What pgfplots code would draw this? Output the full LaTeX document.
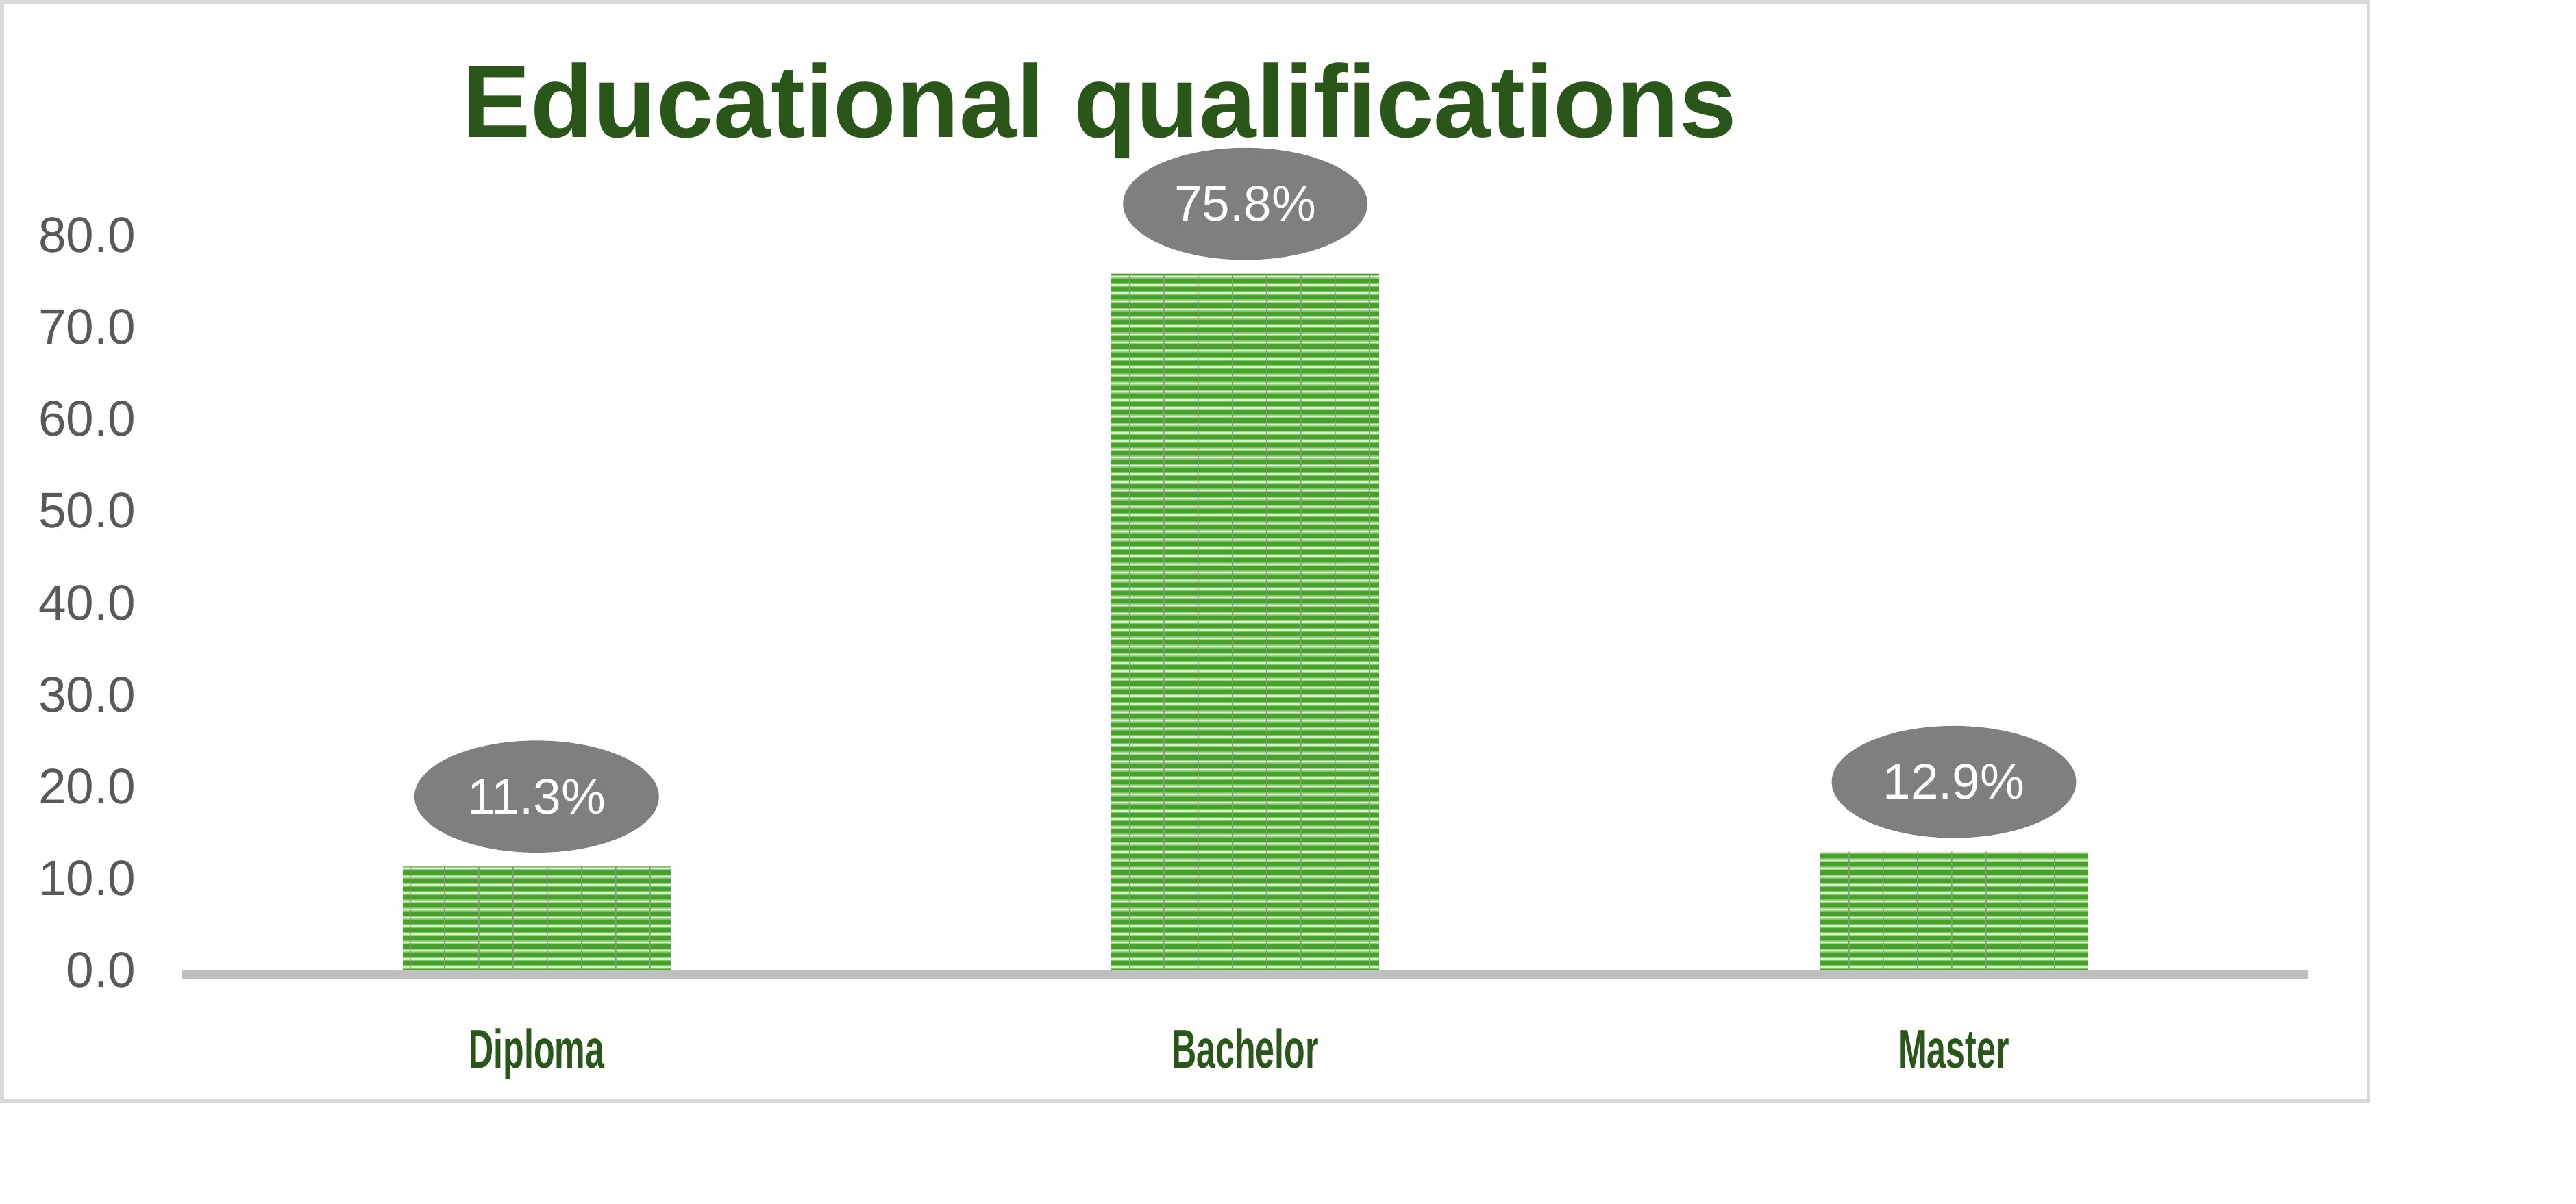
\documentclass[border=0pt]{standalone}
\usepackage{pgfplots}
\pgfplotsset{compat=1.18}
\usepackage{fontspec}
\setmainfont{Liberation Sans}
\newfontfamily\catfont[FakeStretch=0.63]{Liberation Sans}
\usetikzlibrary{shapes.geometric,patterns.meta}
\definecolor{titlegreen}{HTML}{2A561A}
\definecolor{darkbar}{HTML}{47A02B}
\definecolor{midbar}{HTML}{7EC463}
\definecolor{lightbar}{HTML}{D6EFCC}
\definecolor{vline}{HTML}{7F9F73}
\definecolor{ticktext}{HTML}{595959}
\definecolor{basegrey}{HTML}{BFBFBF}
\definecolor{framegrey}{HTML}{D9D9D9}
\definecolor{bubble}{HTML}{7F7F7F}
\tikzdeclarepattern{
  name=blinds,
  type=colored,
  bottom left={(0pt,0pt)},
  top right={(10.4pt,2.6pt)},
  tile size={(10.4pt,2.6pt)},
  code={
    \fill[lightbar] (0pt,0pt) rectangle (10.4pt,2.6pt);
    \fill[darkbar] (0pt,0pt) rectangle (10.4pt,1.3pt);
    \fill[midbar] (0pt,1.3pt) rectangle (10.4pt,1.65pt);
    \fill[midbar] (0pt,2.25pt) rectangle (10.4pt,2.6pt);
    \fill[vline] (0pt,0pt) rectangle (0.35pt,2.6pt);
  }
}
\begin{document}
\begin{tikzpicture}
\path[use as bounding box] (0pt,0pt) rectangle (784pt,366.4pt);
\draw[framegrey, line width=1.2pt] (0.6pt,31.1pt) rectangle (720.9pt,365.8pt);
\node[anchor=base, text=titlegreen, font=\fontsize{31.3pt}{36pt}\selectfont\bfseries, inner sep=0pt] at (334.6pt,324.6pt) {Educational qualifications};
\begin{axis}[
  at={(55.5pt,71pt)}, anchor=south west,
  scale only axis, width=647pt, height=223.85pt,
  xmin=-0.5, xmax=2.5, ymin=0, ymax=80,
  clip=false,
  axis line style={draw=none},
  tick style={draw=none},
  major tick length=0pt,
  xtick=data,
  xticklabels={Diploma,Bachelor,Master},
  xticklabel style={anchor=base, yshift=-29.8pt, inner sep=0pt, text=titlegreen, font=\fontsize{16.6pt}{18pt}\selectfont\catfont\bfseries},
  ytick={0,10,...,80},
  yticklabel style={anchor=east, inner sep=0pt, xshift=-14pt, text=ticktext, font=\fontsize{15.2pt}{17pt}\selectfont,
    /pgf/number format/.cd, fixed, fixed zerofill, precision=1, assume math mode=true},
  ybar, bar width=81.5pt,
  nodes near coords={\pgfmathprintnumber[fixed,fixed zerofill,precision=1,assume math mode=true]{\pgfplotspointmeta}\%},
  every node near coord/.append style={ellipse, fill=bubble, text=white, minimum width=74.4pt, minimum height=34.1pt, inner sep=0pt, anchor=south, yshift=4pt, font=\fontsize{15.2pt}{17pt}\selectfont},
]
\addplot[draw=none, pattern=blinds] coordinates {(0,11.3) (1,75.8) (2,12.9)};
\draw[basegrey, line width=2.6pt] ([yshift=-1.3pt]axis cs:-0.5,0) -- ([yshift=-1.3pt]axis cs:2.5,0);
\end{axis}
\end{tikzpicture}
\end{document}
